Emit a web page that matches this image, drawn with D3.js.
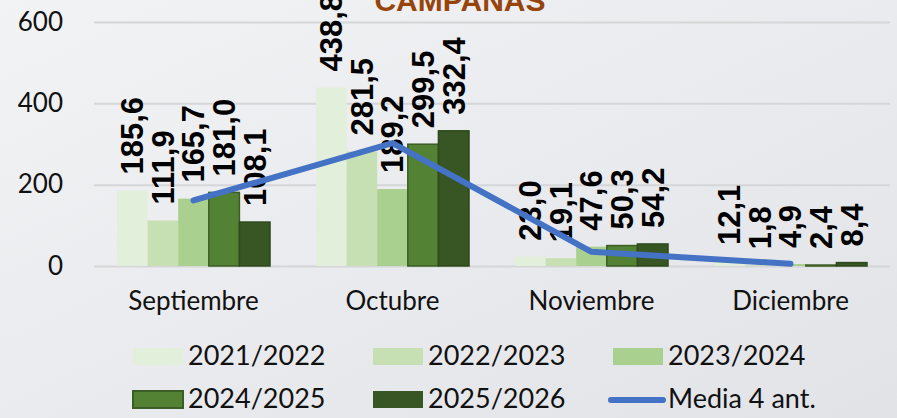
<!DOCTYPE html>
<html>
<head>
<meta charset="utf-8">
<script src="https://cdn.jsdelivr.net/npm/d3@7"></script>
<style>
  html, body { margin: 0; padding: 0; overflow: hidden; }
  svg { display: block; }
  .tick-label, .cat-label, .legend-label { font-family: Lato, 'Open Sans', sans-serif; fill: #111; }
  .value { font-family: 'Liberation Sans', Arial, sans-serif; font-weight: bold; fill: #000; }
</style>
</head>
<body>
<svg id="chart"></svg>
<script>
// meses
var categories = ['Septiembre', 'Octubre', 'Noviembre', 'Diciembre'];
// campañas
var seasons = ['2021/2022', '2022/2023', '2023/2024', '2024/2025', '2025/2026'];
var s2122 = [185.6, 438.8, 23.0, 12.1];
var s2223 = [111.9, 281.5, 19.1, 1.8];
var s2324 = [165.7, 189.2, 47.6, 4.9];
var s2425 = [181.0, 299.5, 50.3, 2.4];
var s2526 = [108.1, 332.4, 54.2, 8.4];
// media de las 4 campañas anteriores
var media = [161.1, 302.3, 35.0, 5.3];
var yTicks = [0, 200, 400, 600];

var series = [s2122, s2223, s2324, s2425, s2526];
var colors = ['#e2efda', '#c6e0b4', '#a9d08e', '#548235', '#375623'];
var strokes = ['none', 'none', 'none', '#3b5e24', '#2f4a1d'];

var width = 897;
var height = 418;

var svg = d3.select('#chart')
  .attr('width', width)
  .attr('height', height);

// fondo
var grad = svg.append('defs').append('linearGradient')
  .attr('id', 'bg')
  .attr('x1', '0%').attr('y1', '0%')
  .attr('x2', '100%').attr('y2', '100%');
grad.append('stop').attr('offset', '0%').attr('stop-color', '#f2f3f5');
grad.append('stop').attr('offset', '100%').attr('stop-color', '#e2e3e7');
svg.append('rect')
  .attr('width', width)
  .attr('height', height)
  .attr('fill', 'url(#bg)');

var x0 = d3.scaleBand()
  .domain(categories)
  .range([94, 890])
  .paddingInner(0.231)
  .paddingOuter(0.1155);

var x1 = d3.scaleBand()
  .domain(seasons)
  .range([0, x0.bandwidth()]);

var y = d3.scaleLinear()
  .domain([0, 600])
  .range([266, 22]);

// titulo (cortado arriba)
svg.append('text')
  .attr('x', 460)
  .attr('y', 11)
  .attr('text-anchor', 'middle')
  .style('font-family', "'Liberation Sans', Arial, sans-serif")
  .style('font-weight', 'bold')
  .style('font-size', '30px')
  .style('fill', '#96440c')
  .text('CAMPANAS');

// lineas de la cuadricula
var yAxis = d3.axisLeft(y)
  .tickValues(yTicks)
  .tickSize(-(890 - 94))
  .tickPadding(31)
  .tickFormat(d3.format('d'));

var ga = svg.append('g')
  .attr('transform', 'translate(94,0)')
  .call(yAxis);
ga.select('.domain').remove();
ga.selectAll('.tick line')
  .attr('stroke', '#d5d6d8')
  .attr('stroke-width', 2);
ga.selectAll('.tick text')
  .attr('class', 'tick-label')
  .style('font-size', '26px')
  .attr('fill', '#111');

// barras
var groups = svg.selectAll('g.cat')
  .data(categories)
  .enter()
  .append('g')
  .attr('class', 'cat')
  .attr('transform', function(d) {
    return 'translate(' + x0(d) + ',0)';
  });

seasons.forEach(function(s, j) {
  groups.append('rect')
    .attr('x', x1(s))
    .attr('y', function(d, i) { return y(series[j][i]); })
    .attr('width', x1.bandwidth())
    .attr('height', function(d, i) { return y(0) - y(series[j][i]); })
    .attr('fill', colors[j])
    .attr('stroke', strokes[j])
    .attr('stroke-width', strokes[j] === 'none' ? 0 : 1.5);
});

// linea media
var line = d3.line()
  .x(function(d, i) { return x0(categories[i]) + x0.bandwidth() / 2; })
  .y(function(d) { return y(d); });

svg.append('path')
  .datum(media)
  .attr('d', line)
  .attr('fill', 'none')
  .attr('stroke', '#4472c4')
  .attr('stroke-width', 6)
  .attr('stroke-linecap', 'round')
  .attr('stroke-linejoin', 'round');

// etiquetas de valor
var fmt = function(v) { return d3.format('.1f')(v).replace('.', ','); };
seasons.forEach(function(s, j) {
  groups.append('text')
    .attr('class', 'value')
    .attr('transform', function(d, i) {
      var cx = x1(s) + x1.bandwidth() / 2;
      var cy = y(series[j][i]) - 16;
      return 'translate(' + cx + ',' + cy + ') rotate(-90)';
    })
    .attr('dy', '0.35em')
    .style('font-size', '31px')
    .text(function(d, i) { return fmt(series[j][i]); });
});

// eje x
svg.selectAll('text.cat-label')
  .data(categories)
  .enter()
  .append('text')
  .attr('class', 'cat-label')
  .attr('x', function(d) { return x0(d) + x0.bandwidth() / 2; })
  .attr('y', 310)
  .attr('text-anchor', 'middle')
  .style('font-size', '26px')
  .text(function(d) { return d; });

// leyenda
var legendItems = seasons.concat(['Media 4 ant.']);
var legend = svg.selectAll('g.legend')
  .data(legendItems)
  .enter()
  .append('g')
  .attr('class', 'legend')
  .attr('transform', function(d, i) {
    var col = i % 3, row = Math.floor(i / 3);
    return 'translate(' + (133 + col * 240) + ',' + (365 + row * 43) + ')';
  });

legend.each(function(d, i) {
  var g = d3.select(this);
  if (i < seasons.length) {
    g.append('rect')
      .attr('x', 0)
      .attr('y', -17)
      .attr('width', 50)
      .attr('height', 17)
      .attr('fill', colors[i])
      .attr('stroke', strokes[i] === 'none' ? 'none' : strokes[i])
      .attr('stroke-width', i === 3 ? 2 : 0);
  } else {
    g.append('line')
      .attr('x1', -2).attr('x2', 50)
      .attr('y1', -8).attr('y2', -8)
      .attr('stroke', '#4472c4')
      .attr('stroke-width', 6)
      .attr('stroke-linecap', 'round');
  }
  g.append('text')
    .attr('class', 'legend-label')
    .attr('x', 55)
    .attr('y', 0)
    .style('font-size', '27px')
    .text(d);
});
</script>
</body>
</html>
